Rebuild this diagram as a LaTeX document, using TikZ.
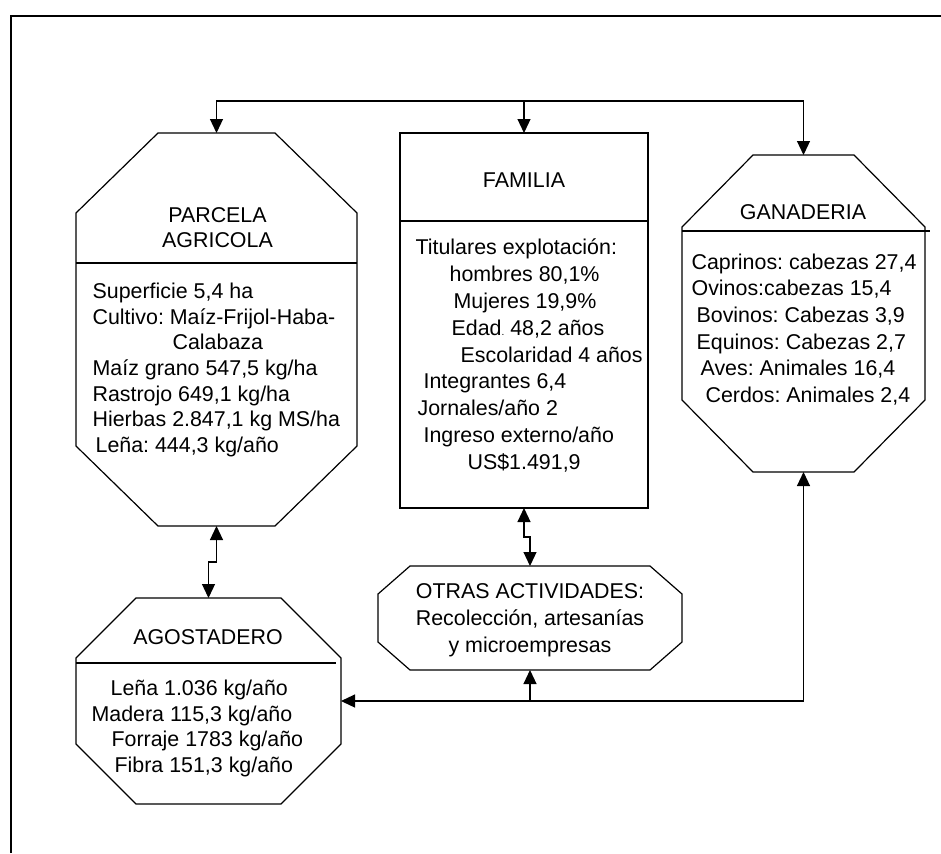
\documentclass[tikz,border=0pt]{standalone}
\usepackage{fontspec}
\setmainfont{Liberation Sans}
\frenchspacing
\usetikzlibrary{positioning,calc,arrows.meta}
\tikzset{
    % Bloque: solo reserva el lugar, el contorno se dibuja aparte
    bloque/.style={rectangle, inner sep=0pt, outer sep=0pt},
    % Titulos de cada bloque
    titulo/.style={align=center, inner sep=0pt,
                   font=\fontsize{10.7}{12.5}\selectfont},
    % Listas de datos
    datos/.style={align=left, inner sep=0pt, anchor=west},
    flecha/.style={-{Triangle[width=6.5pt,length=7pt]}},
    dobleflecha/.style={{Triangle[width=6.5pt,length=7pt]}-{Triangle[width=6.5pt,length=7pt]}}
}
% octagono alrededor de un nodo: nombre, corte en x, corte en y
\newcommand{\octagono}[3]{%
  \draw ($(#1.north west)+(#2,0)$) -- ($(#1.north east)+(-#2,0)$)
     -- ($(#1.north east)+(0,#3)$) -- ($(#1.south east)+(0,-#3)$)
     -- ($(#1.south east)+(-#2,0)$) -- ($(#1.south west)+(#2,0)$)
     -- ($(#1.south west)+(0,-#3)$) -- ($(#1.north west)+(0,#3)$) -- cycle;}

\begin{document}
\begin{tikzpicture}[x=0.5pt, y=-0.5pt, line width=0.6pt]
    \useasboundingbox (0,0) rectangle (941,853);

    % Marco
    \draw[line width=1pt] (11,853) -- (11,16) -- (941,16);

    % Bloques
    \node[bloque, minimum width=140.5pt, minimum height=196.5pt] (parcela) at (216.5,329.5) {};
    \node[bloque, draw, minimum width=124pt, minimum height=187.5pt] (familia) at (524,320.5) {};
    \node[bloque, minimum width=121.5pt, minimum height=158.5pt] (ganaderia) at (803.5,313.5) {};
    \node[bloque, minimum width=132.5pt, minimum height=103pt] (agostadero) at (208.5,701) {};
    \node[bloque, minimum width=152pt, minimum height=52pt] (otras) at (530,618) {};

    \octagono{parcela}{82}{80}
    \octagono{ganaderia}{71}{72}
    \octagono{agostadero}{60}{60}
    \octagono{otras}{32}{28}

    % Divisiones
    \draw (parcela.west |- 0,263) -- (parcela.east |- 0,263);
    \draw (familia.west |- 0,221) -- (familia.east |- 0,221);
    \draw (ganaderia.west |- 0,231) -- (930,231);
    \draw (agostadero.west |- 0,663) -- (336,663);

    % Titulos
    \node[titulo] (tparcela) at (217.5,227.5) {PARCELA\\AGRICOLA};
    \node[titulo] (tfamilia) at (524,180) {FAMILIA};
    \node[titulo] (tganaderia) at (803,212) {GANADERIA};
    \node[titulo] (tagostadero) at (208,637) {AGOSTADERO};
    \node[titulo, font=\fontsize{10.7}{13.5}\selectfont] (totras) at (530,620)
        {OTRAS ACTIVIDADES:\\Recolección, artesanías\\y microempresas};

    % Datos
    \node[datos, font=\fontsize{10.7}{12.85}\selectfont] (dparcela) at (92,370) {%
        Superficie 5,4 ha\\
        Cultivo: Maíz-Frijol-Haba-\\
        \hspace*{40pt}Calabaza\\
        Maíz grano 547,5 kg/ha\\
        Rastrojo 649,1 kg/ha\\
        Hierbas 2.847,1 kg MS/ha\\
        \hspace*{1.5pt}Leña: 444,3 kg/año};
    \node[datos, font=\fontsize{10.7}{13.44}\selectfont] (dfamilia) at (415,355.5) {%
        Titulares explotación:\\
        \hspace*{17pt}hombres 80,1\%\\
        \hspace*{19pt}Mujeres 19,9\%\\
        \hspace*{18pt}Edad{\tiny.} 48,2 años\\
        \hspace*{22.5pt}Escolaridad 4 años\\
        \hspace*{4pt}Integrantes 6,4\\
        \hspace*{1pt}Jornales/año 2\\
        \hspace*{4pt}Ingreso externo/año\\
        \hspace*{26pt}US\$1.491,9};
    \node[datos, font=\fontsize{10.7}{13.3}\selectfont] (dganaderia) at (691,329.5) {%
        Caprinos: cabezas 27,4\\
        Ovinos:cabezas 15,4\\
        \hspace*{2.5pt}Bovinos: Cabezas 3,9\\
        \hspace*{2.5pt}Equinos: Cabezas 2,7\\
        \hspace*{4.5pt}Aves: Animales 16,4\\
        \hspace*{7pt}Cerdos: Animales 2,4};
    \node[datos, font=\fontsize{10.7}{12.83}\selectfont] (dagostadero) at (91,728.5) {%
        \hspace*{9.5pt}Leña 1.036 kg/año\\
        Madera 115,3 kg/año\\
        \hspace*{10pt}Forraje 1783 kg/año\\
        \hspace*{11.5pt}Fibra 151,3 kg/año};

    % Flechas superiores
    \coordinate (reparto) at (524,101);
    \draw[flecha] (reparto) -| (parcela.north);
    \draw[flecha] (reparto) -| (ganaderia.north);
    \draw[flecha] (reparto) -- (familia.north);

    % Intercambios
    \draw[dobleflecha] (parcela.south) -- ++(0,36) -| (agostadero.north);
    \draw[dobleflecha] (familia.south) -- ++(0,29) -| (otras.north);

    % Flechas inferiores
    \coordinate (union) at (otras.south |- 0,701);
    \draw[flecha] (union) -| (ganaderia.south);
    \draw[flecha] (union) -- (otras.south);
    \draw[flecha] (union) -- (agostadero.east);
\end{tikzpicture}
\end{document}
